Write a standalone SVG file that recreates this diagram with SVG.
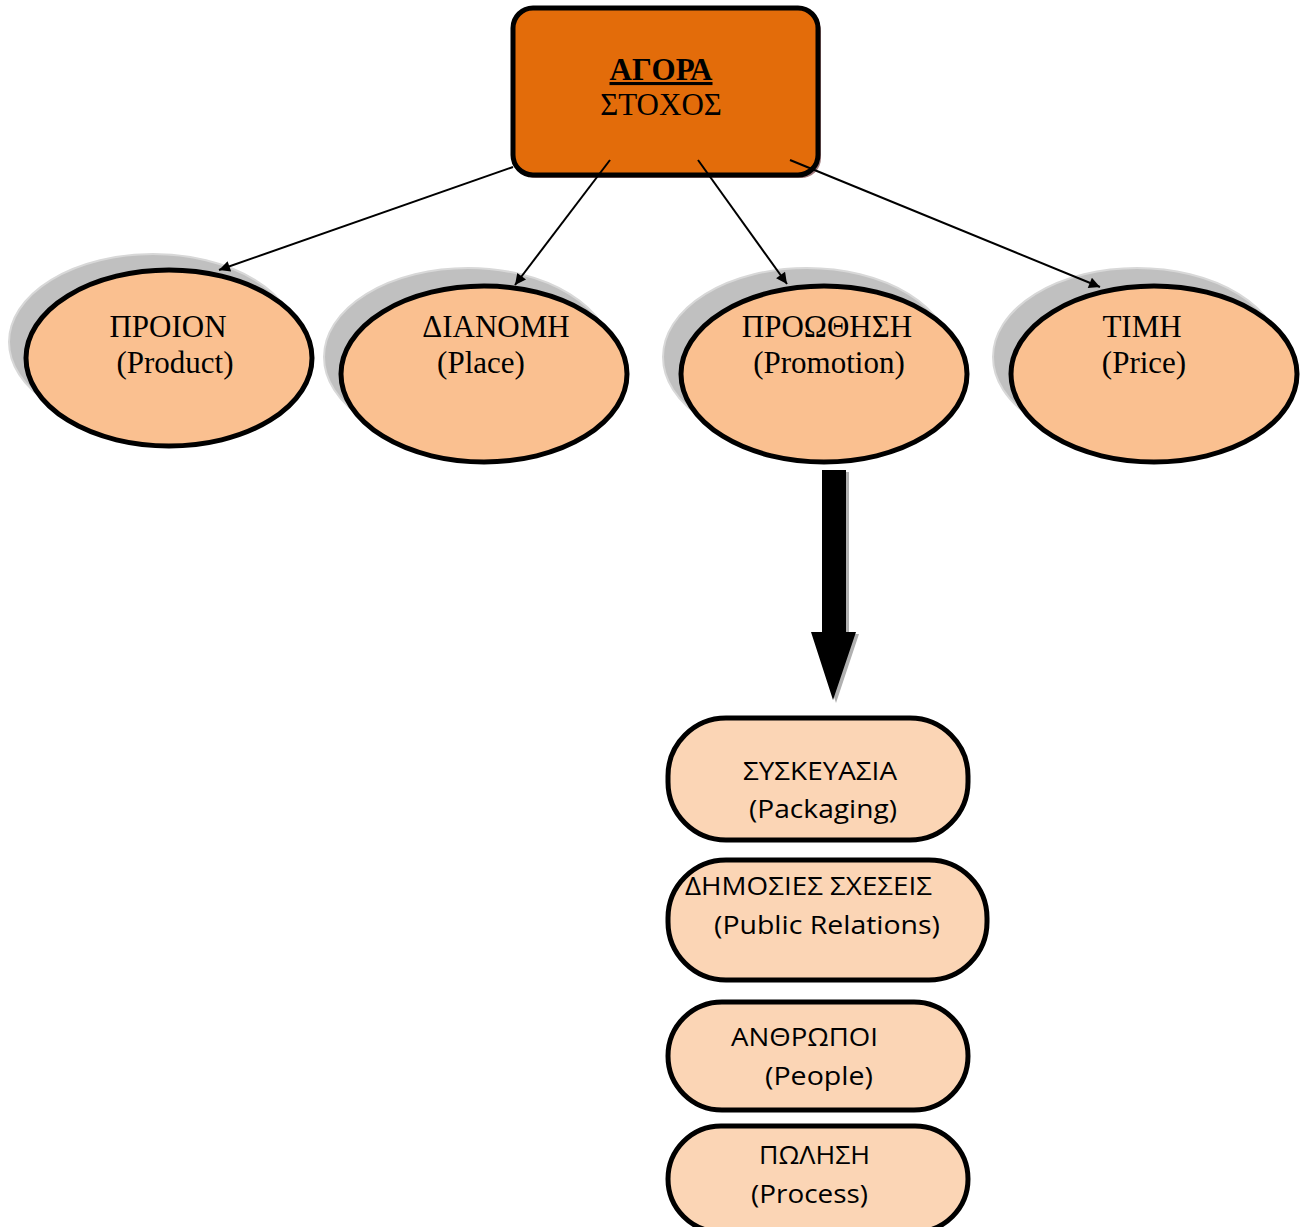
<svg xmlns="http://www.w3.org/2000/svg" width="1302" height="1227" viewBox="0 0 1302 1227">
<defs>
<style>
.serif{font-family:"Liberation Serif","Times New Roman",serif;font-size:31px;fill:#000}
.sans{font-family:"Open Sans","Noto Sans","Liberation Sans",sans-serif;font-size:26px;fill:#000}
.ell{fill:#FAC090;stroke:#000;stroke-width:5}
.shadow{fill:#C0C0C0;stroke:#D8D8D8;stroke-width:2}
.pill{fill:#FBD5B5;stroke:#000;stroke-width:5}
.conn{stroke:#000;stroke-width:2;fill:none}
</style>
<marker id="ah" viewBox="0 0 10 10" refX="10" refY="5" markerWidth="14" markerHeight="11" markerUnits="userSpaceOnUse" orient="auto">
<path d="M0,0 L10,5 L0,10 z" fill="#000"/>
</marker>
</defs>
<rect width="1302" height="1227" fill="#fff"/>

<g id="agora">
<rect x="516" y="11" width="305" height="167" rx="20" fill="#A37C7E"/>
<rect x="513" y="8" width="305" height="167" rx="20" fill="#E36C0A" stroke="#000" stroke-width="5"/>
<text x="661" y="80" class="serif" font-size="34" text-anchor="middle" font-weight="bold" text-decoration="underline">ΑΓΟΡΑ</text>
<text x="661" y="115" class="serif" font-size="33" text-anchor="middle">ΣΤΟΧΟΣ</text>
</g>

<g id="product">
<ellipse cx="153" cy="342" rx="144" ry="88" class="shadow"/>
<ellipse cx="169" cy="358" rx="143" ry="88" class="ell"/>
<text x="168" y="337" class="serif" text-anchor="middle">ΠΡΟΙΟΝ</text>
<text x="175" y="373" class="serif" text-anchor="middle">(Product)</text>
</g>

<g id="place">
<ellipse cx="468" cy="357" rx="144" ry="89" class="shadow"/>
<ellipse cx="484" cy="374" rx="143" ry="88" class="ell"/>
<text x="496" y="337" class="serif" text-anchor="middle">ΔΙΑΝΟΜΗ</text>
<text x="481" y="373" class="serif" text-anchor="middle">(Place)</text>
</g>

<g id="promotion">
<ellipse cx="807" cy="357" rx="144" ry="89" class="shadow"/>
<ellipse cx="824" cy="374" rx="143" ry="88" class="ell"/>
<text x="827" y="337" class="serif" text-anchor="middle">ΠΡΟΩΘΗΣΗ</text>
<text x="829" y="373" class="serif" text-anchor="middle">(Promotion)</text>
</g>

<g id="price">
<ellipse cx="1137" cy="357" rx="144" ry="89" class="shadow"/>
<ellipse cx="1154" cy="374" rx="143" ry="88" class="ell"/>
<text x="1142" y="337" class="serif" text-anchor="middle">ΤΙΜΗ</text>
<text x="1144" y="373" class="serif" text-anchor="middle">(Price)</text>
</g>

<g id="packaging">
<rect x="668" y="718" width="300" height="122" rx="58" class="pill"/>
<text x="743" y="780" class="sans" textLength="154" lengthAdjust="spacingAndGlyphs">ΣΥΣΚΕΥΑΣΙΑ</text>
<text x="749" y="818" class="sans" textLength="148" lengthAdjust="spacingAndGlyphs">(Packaging)</text>
</g>

<g id="public-relations">
<rect x="668" y="860" width="319" height="120" rx="58" class="pill"/>
<text x="685" y="895" class="sans" textLength="247" lengthAdjust="spacingAndGlyphs">ΔΗΜΟΣΙΕΣ ΣΧΕΣΕΙΣ</text>
<text x="714" y="934" class="sans" textLength="226" lengthAdjust="spacingAndGlyphs">(Public Relations)</text>
</g>

<g id="people">
<rect x="668" y="1002" width="300" height="108" rx="54" class="pill"/>
<text x="731" y="1046" class="sans" textLength="147" lengthAdjust="spacingAndGlyphs">ΑΝΘΡΩΠΟΙ</text>
<text x="765" y="1085" class="sans" textLength="108" lengthAdjust="spacingAndGlyphs">(People)</text>
</g>

<g id="process">
<rect x="668" y="1126" width="300" height="106" rx="53" class="pill"/>
<text x="759" y="1164" class="sans" textLength="111" lengthAdjust="spacingAndGlyphs">ΠΩΛΗΣΗ</text>
<text x="751" y="1203" class="sans" textLength="117" lengthAdjust="spacingAndGlyphs">(Process)</text>
</g>

<g id="connectors">
<line x1="513" y1="167" x2="219" y2="270" class="conn" marker-end="url(#ah)"/>
<line x1="610" y1="160" x2="515" y2="285" class="conn" marker-end="url(#ah)"/>
<line x1="698" y1="160" x2="787" y2="284" class="conn" marker-end="url(#ah)"/>
<line x1="790" y1="160" x2="1100" y2="287" class="conn" marker-end="url(#ah)"/>
<path d="M825,472 H849 V634 H859 L836,703 L813,634 H825 Z" fill="#B0B0B0"/>
<path d="M822,470 H846 V632 H856 L833,700 L811,632 H822 Z" fill="#000"/>
</g>
</svg>
